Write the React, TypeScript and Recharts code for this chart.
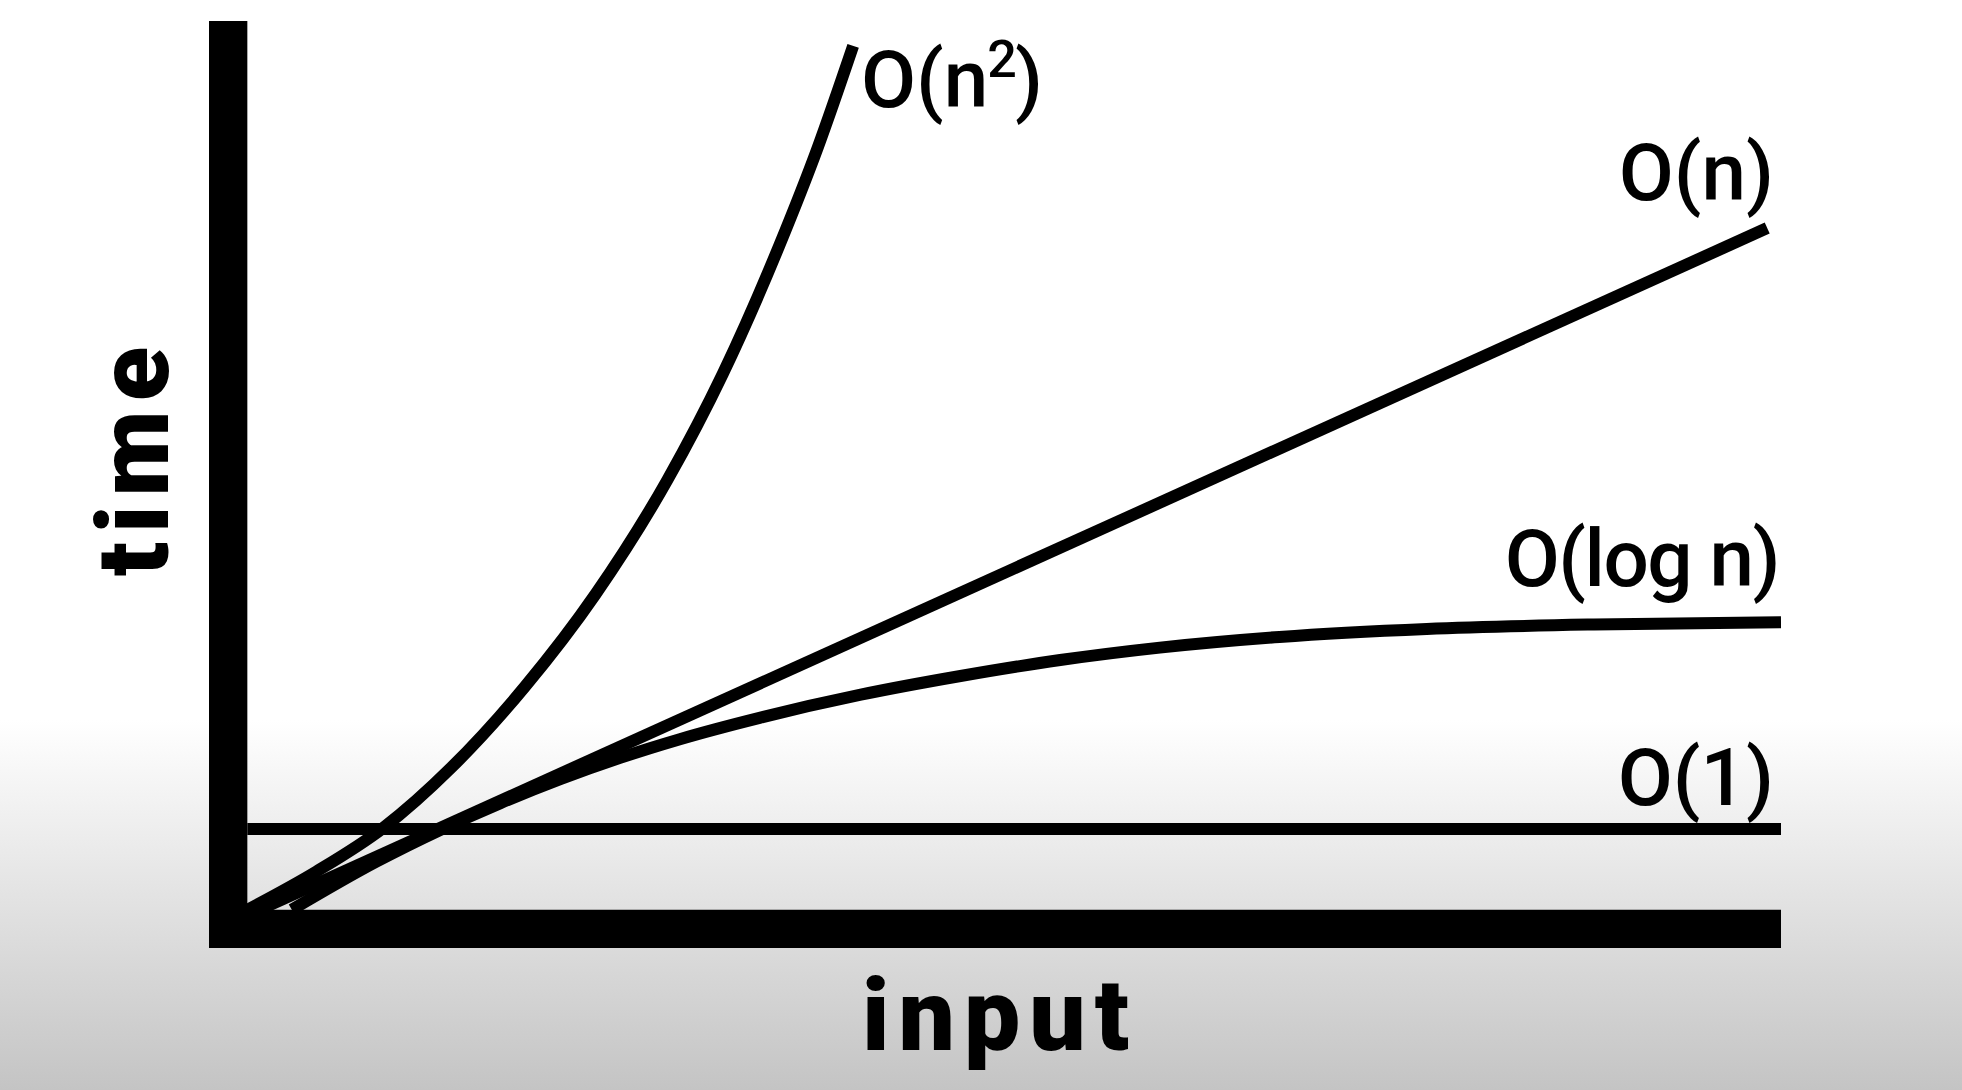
import React from 'react';
import { ComposedChart, Line, XAxis, YAxis, ReferenceArea } from 'recharts';

const W = 1962;
const H = 1090;

// input (x) and time (y) readings for each curve, in chart units (0..100)
const constX = [0, 100];
const constY = [9.1, 9.1];

const linearX = [0, 99.1];
const linearY = [-0.6, 76.7];

const logX = [2.9, 8.4, 12.6, 16.5, 20.4, 24.3, 28.2, 33.4, 40.0, 46.5, 53.0, 59.5, 67.3, 76.9, 87.8, 100];
const logY = [0, 5.4, 9.0, 12.0, 14.7, 17.1, 19.2, 21.6, 24.2, 26.3, 28.1, 29.5, 30.7, 31.6, 32.1, 32.35];

const quadX = [0, 4.5, 8.85, 13.3, 18.1, 22.7, 27.4, 31.0, 34.7, 37.2, 39.5];
const quadY = [0, 4.3, 9.2, 16.0, 25.1, 35.5, 48.4, 60.3, 74.8, 85.8, 97.2];

const X_MIN = -2.5;
const X_MAX = 100;
const Y_MIN = -4.3;
const Y_MAX = 100;

const pts = (xs: number[], ys: number[]) => xs.map((x, i) => ({ x, y: ys[i] }));

const labelFont = { fontFamily: 'Roboto, sans-serif', fontWeight: 500, fontSize: 80, fill: '#000' };
const titleFont = { fontFamily: 'Roboto, sans-serif', fontWeight: 900, fontSize: 100, fill: '#000', letterSpacing: 9 };

export default function App() {
  const series = [
    pts(constX, constY),
    pts(logX, logY),
    pts(linearX, linearY),
    pts(quadX, quadY),
  ];
  return (
    <div
      style={{
        position: 'fixed',
        left: 0,
        top: 0,
        width: W,
        height: H,
        background: 'linear-gradient(180deg, #ffffff 0px, #ffffff 720px, #c4c4c4 1090px)',
      }}
    >
      <ComposedChart width={W} height={H} margin={{ top: 21, right: 181, bottom: 142, left: 209 }}>
        <XAxis type="number" dataKey="x" domain={[X_MIN, X_MAX]} hide allowDataOverflow />
        <YAxis type="number" dataKey="y" domain={[Y_MIN, Y_MAX]} hide allowDataOverflow />
        {series.map((d, i) => (
          <Line
            key={i}
            data={d}
            dataKey="y"
            type="monotone"
            stroke="#000"
            strokeWidth={12}
            dot={false}
            activeDot={false}
            isAnimationActive={false}
          />
        ))}
        <ReferenceArea x1={X_MIN} x2={0} y1={Y_MIN} y2={Y_MAX} fill="#000" fillOpacity={1} stroke="none" />
        <ReferenceArea x1={X_MIN} x2={X_MAX} y1={Y_MIN} y2={0} fill="#000" fillOpacity={1} stroke="none" />

        <text x={861} y={107} {...labelFont}>
          O(n
          <tspan fontSize={52} dx={-1} dy={-30}>2</tspan>
          <tspan dx={-2} dy={30}>)</tspan>
        </text>
        <text x={1774} y={200} textAnchor="end" {...labelFont}>O(n)</text>
        <text x={1779} y={586} textAnchor="end" {...labelFont} letterSpacing={-1.5}>O(log n)</text>
        <text x={1774} y={805} textAnchor="end" {...labelFont}>O(1)</text>

        <text x={1000} y={1050} textAnchor="middle" {...titleFont}>input</text>
        <text transform="translate(168,457) rotate(-90)" textAnchor="middle" {...titleFont}>time</text>
      </ComposedChart>
    </div>
  );
}
